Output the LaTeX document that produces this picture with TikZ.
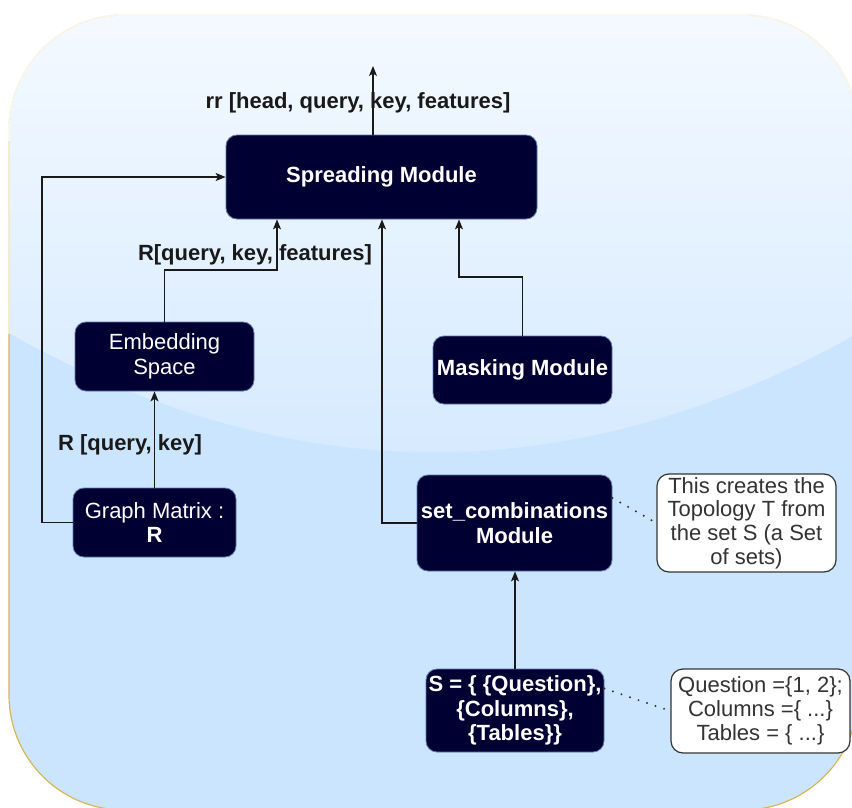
\documentclass[tikz,border=0pt]{standalone}
\usepackage{fontspec}
\setmainfont{Liberation Sans}
\usetikzlibrary{arrows.meta,calc}
\definecolor{navy}{HTML}{000033}
\definecolor{navyedge}{HTML}{5A7AB0}
\definecolor{bgblue}{HTML}{CCE5FF}
\definecolor{gold}{HTML}{D6B656}
\definecolor{notetext}{HTML}{333333}
\begin{document}
\begin{tikzpicture}[x=1pt,y=-1pt,
  dark/.style={draw=navyedge, line width=0.8pt, fill=navy, rounded corners=11pt, text=white, align=center, font=\fontsize{22}{24.5}\selectfont, inner sep=0pt},
  darkb/.style={dark, font=\fontsize{22}{24.5}\selectfont\bfseries},
  note/.style={draw=notetext, line width=1.2pt, fill=white, rounded corners=12pt, text=notetext, align=center, font=\fontsize{22}{23.7}\selectfont, inner sep=0pt},
  link/.style={draw=black!90, line width=1.3pt, -{Stealth[length=10pt,width=8pt,inset=2.5pt]}},
  lbl/.style={font=\fontsize{22}{24}\selectfont\bfseries, text=black!90, inner sep=0pt},
  dots/.style={line width=2.2pt, dash pattern=on 0pt off 9pt, line cap=round, draw=notetext}]
\useasboundingbox (0,0) rectangle (852,808);
% background panel
\begin{scope}
  \clip[rounded corners=115pt] (9,15) rectangle (858,810);
  \fill[bgblue] (9,15) rectangle (858,810);
  \shade[top color=white!78!bgblue, bottom color=white!15!bgblue]
    (9,15) -- (9,333) .. controls (292,492) and (575,492) .. (858,333) -- (858,15) -- cycle;
\end{scope}
\draw[gold, line width=1.2pt, rounded corners=115pt] (9,15) rectangle (858,810);
\begin{scope}
  \clip (0,0) rectangle (860,140);
  \draw[white, opacity=0.85, line width=1.8pt, rounded corners=115pt] (9,15) rectangle (858,810);
\end{scope}
\begin{scope}
  \clip (0,140) rectangle (860,333);
  \draw[white, opacity=0.6, line width=1.8pt, rounded corners=115pt] (9,15) rectangle (858,810);
\end{scope}

% nodes
\node[darkb, minimum width=311pt, minimum height=84pt] (spread) at (381.5,177) {Spreading Module};
\node[dark, minimum width=179pt, minimum height=69pt] (embed) at (164.5,356.5) {Embedding\\Space};
\node[darkb, minimum width=179pt, minimum height=68pt] (mask) at (522.5,370) {Masking Module};
\node[dark, minimum width=163pt, minimum height=69pt] (graph) at (154.5,522.5) {Graph Matrix :\\\textbf{R}};
\node[darkb, minimum width=195pt, minimum height=96pt] (setc) at (514.5,523) {set\_combinations\\Module};
\node[darkb, minimum width=178pt, minimum height=83pt] (sset) at (515,710.5) {S = \{ \{Question\},\\\{Columns\},\\\{Tables\}\}};
\node[note, minimum width=179pt, minimum height=98pt] (note1) at (746.5,523) {This creates the\\Topology T from\\the set S (a Set\\of sets)};
\node[note, minimum width=179pt, minimum height=84pt] (note2) at (760.5,711) {Question =\{1, 2\};\\Columns =\{ ...\}\\Tables = \{ ...\}};

% labels
\node[lbl] (lrr) at (358,103) {rr [head, query, key, features]};
\node[lbl] (lrf) at (255,255) {R[query, key, features]};
\node[lbl] (lrq) at (130,445) {R [query, key]};

% connectors
\coordinate (out) at (373,66);
\draw[link] (spread.north -| out) -- (out);
\coordinate (lx) at (42,0);
\draw[link] (graph.west) -- (graph.west -| lx) |- (spread.west);
\draw[link] (graph.north) -- (graph.north |- embed.south);
\coordinate (ej) at (277,270);
\draw[link] (embed.north) |- (ej) -- (ej |- spread.south);
\coordinate (mj) at (459,277);
\draw[link] (mask.north) |- (mj) -- (mj |- spread.south);
\coordinate (sj) at (382,523);
\draw[link] (setc.west) -- (sj) -- (sj |- spread.south);
\draw[link] (sset.north) -- (sset.north |- setc.south);
\draw[dots] ($(setc.east)+(0,-25)$) -- (note1.west);
\draw[dots] ($(sset.east)+(0,-22)$) -- (note2.west);
\end{tikzpicture}
\end{document}
